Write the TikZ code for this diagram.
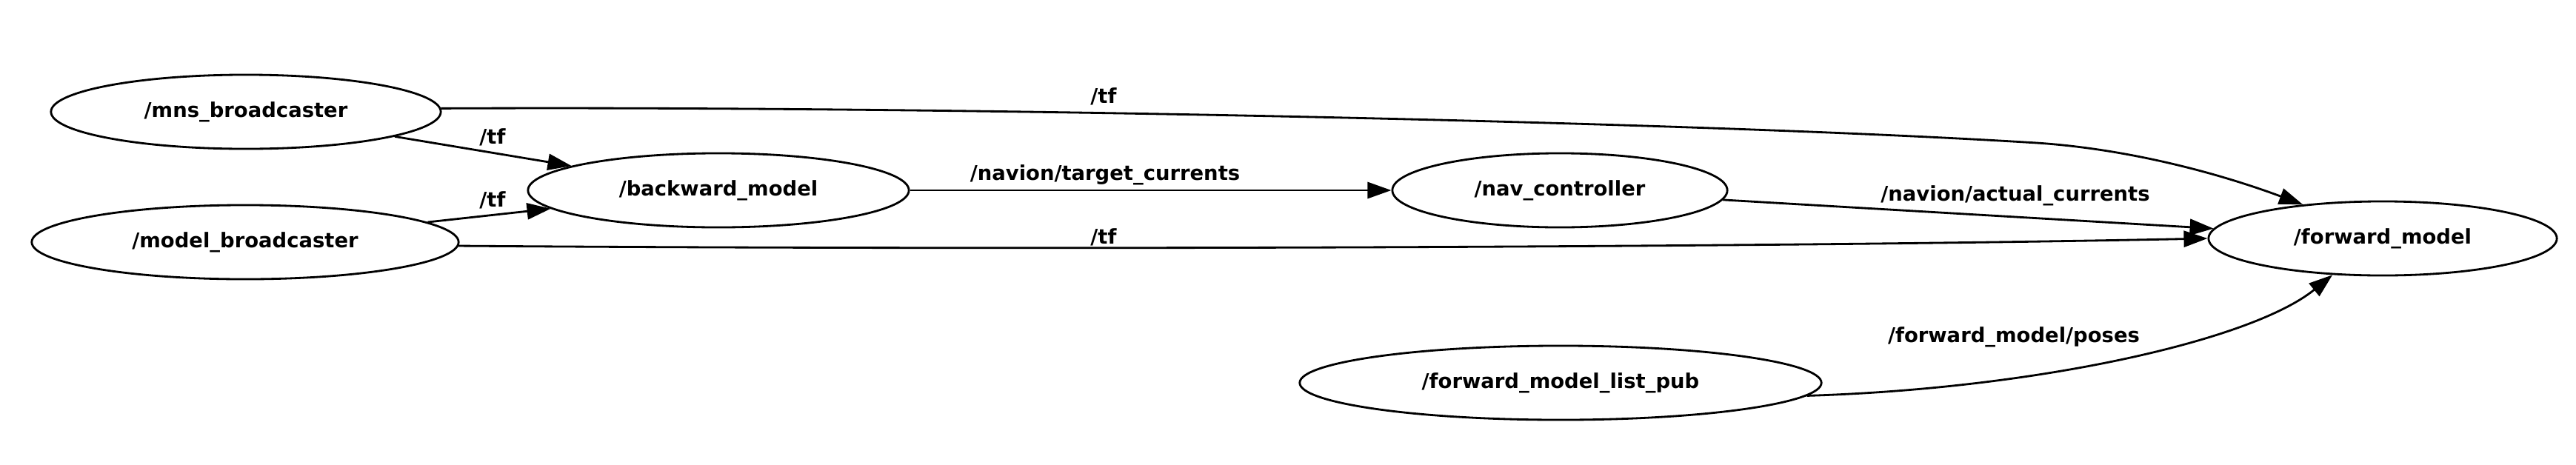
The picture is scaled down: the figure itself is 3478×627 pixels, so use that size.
\documentclass[tikz,border=0pt]{standalone}
\usepackage{fontspec}
\setmainfont{DejaVu Sans}
\usetikzlibrary{shapes.geometric, arrows.meta}

\begin{document}
\begin{tikzpicture}[x=0.01cm, y=-0.01cm, >={Triangle[length=0.32cm,width=0.22cm]},
  rosnode/.style={ellipse, draw, line width=0.8pt, inner sep=0pt, minimum height=1cm,
    font=\fontsize{7.8}{9}\selectfont\bfseries},
  topic/.style={font=\fontsize{7.8}{9}\selectfont\bfseries, inner sep=0pt},
  link/.style={->, line width=0.8pt}]
  \useasboundingbox (0,0) rectangle (3478,627);
  % nodes
  \node[rosnode, minimum width=5.26cm] (mns) at (332,151) {/mns\_broadcaster};
  \node[rosnode, minimum width=5.76cm] (model) at (331,327) {/model\_broadcaster};
  \node[rosnode, minimum width=5.14cm] (bwd) at (970,257) {/backward\_model};
  \node[rosnode, minimum width=4.52cm] (nav) at (2106,257) {/nav\_controller};
  \node[rosnode, minimum width=4.70cm] (fwd) at (3217,322) {/forward\_model};
  \node[rosnode, minimum width=7.04cm] (listpub) at (2107,517) {/forward\_model\_list\_pub};
  % topics
  \draw[link] (mns.1) .. controls (1300,143) and (2300,165) .. (2750,193)
    .. controls (2870,201) and (2990,232) .. (fwd.157);
  \node[topic] (tftop) at (1490,130) {/tf};
  \draw[link] (mns) -- (bwd);
  \node[topic] (tfmns) at (665,185) {/tf};
  \draw[link] (model) -- (bwd);
  \node[topic] (tfmodel) at (665,270) {/tf};
  \draw[link] (model.-1) .. controls (1400,338) and (2400,334) .. (fwd.west);
  \node[topic] (tfbottom) at (1490,320) {/tf};
  \draw[link] (bwd.east) -- (nav.west);
  \node[topic] (target) at (1492,236) {/navion/target\_currents};
  \draw[link] (nav) -- (fwd);
  \node[topic] (actual) at (2721,264) {/navion/actual\_currents};
  \draw[link] (listpub.-3) .. controls (2750,525) and (3040,460) .. (fwd.216);
  \node[topic] (poses) at (2719,455) {/forward\_model/poses};
\end{tikzpicture}
\end{document}
